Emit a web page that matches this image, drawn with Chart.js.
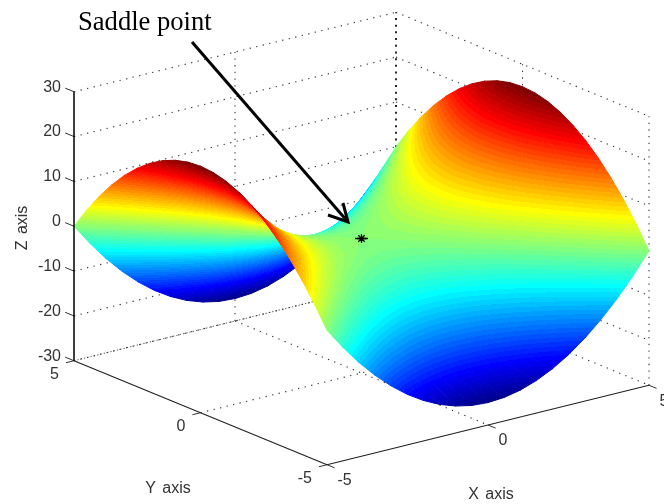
<!DOCTYPE html>
<html lang="en">
<head>
  <meta charset="UTF-8">
  <title>Saddle point</title>
  <script src="https://cdn.jsdelivr.net/npm/chart.js"></script>
  <style>
    html, body { margin: 0; padding: 0; background: #fff; overflow: hidden; }
    canvas { display: block; }
  </style>
</head>
<body>
  <canvas id="saddleChart" width="664" height="504"></canvas>

  <script>
    const xVals = [-5,-4.5,-4,-3.5,-3,-2.5,-2,-1.5,-1,-0.5,0,0.5,1,1.5,2,2.5,3,3.5,4,4.5,5];
    const yVals = [5,4.5,4,3.5,3,2.5,2,1.5,1,0.5,0,-0.5,-1,-1.5,-2,-2.5,-3,-3.5,-4,-4.5,-5];
    // surface heights, one row per y value
    const zVals = [
      [0,-4.75,-9,-12.75,-16,-18.75,-21,-22.75,-24,-24.75,-25,-24.75,-24,-22.75,-21,-18.75,-16,-12.75,-9,-4.75,0],
      [4.75,0,-4.25,-8,-11.25,-14,-16.25,-18,-19.25,-20,-20.25,-20,-19.25,-18,-16.25,-14,-11.25,-8,-4.25,0,4.75],
      [9,4.25,0,-3.75,-7,-9.75,-12,-13.75,-15,-15.75,-16,-15.75,-15,-13.75,-12,-9.75,-7,-3.75,0,4.25,9],
      [12.75,8,3.75,0,-3.25,-6,-8.25,-10,-11.25,-12,-12.25,-12,-11.25,-10,-8.25,-6,-3.25,0,3.75,8,12.75],
      [16,11.25,7,3.25,0,-2.75,-5,-6.75,-8,-8.75,-9,-8.75,-8,-6.75,-5,-2.75,0,3.25,7,11.25,16],
      [18.75,14,9.75,6,2.75,0,-2.25,-4,-5.25,-6,-6.25,-6,-5.25,-4,-2.25,0,2.75,6,9.75,14,18.75],
      [21,16.25,12,8.25,5,2.25,0,-1.75,-3,-3.75,-4,-3.75,-3,-1.75,0,2.25,5,8.25,12,16.25,21],
      [22.75,18,13.75,10,6.75,4,1.75,0,-1.25,-2,-2.25,-2,-1.25,0,1.75,4,6.75,10,13.75,18,22.75],
      [24,19.25,15,11.25,8,5.25,3,1.25,0,-0.75,-1,-0.75,0,1.25,3,5.25,8,11.25,15,19.25,24],
      [24.75,20,15.75,12,8.75,6,3.75,2,0.75,0,-0.25,0,0.75,2,3.75,6,8.75,12,15.75,20,24.75],
      [25,20.25,16,12.25,9,6.25,4,2.25,1,0.25,0,0.25,1,2.25,4,6.25,9,12.25,16,20.25,25],
      [24.75,20,15.75,12,8.75,6,3.75,2,0.75,0,-0.25,0,0.75,2,3.75,6,8.75,12,15.75,20,24.75],
      [24,19.25,15,11.25,8,5.25,3,1.25,0,-0.75,-1,-0.75,0,1.25,3,5.25,8,11.25,15,19.25,24],
      [22.75,18,13.75,10,6.75,4,1.75,0,-1.25,-2,-2.25,-2,-1.25,0,1.75,4,6.75,10,13.75,18,22.75],
      [21,16.25,12,8.25,5,2.25,0,-1.75,-3,-3.75,-4,-3.75,-3,-1.75,0,2.25,5,8.25,12,16.25,21],
      [18.75,14,9.75,6,2.75,0,-2.25,-4,-5.25,-6,-6.25,-6,-5.25,-4,-2.25,0,2.75,6,9.75,14,18.75],
      [16,11.25,7,3.25,0,-2.75,-5,-6.75,-8,-8.75,-9,-8.75,-8,-6.75,-5,-2.75,0,3.25,7,11.25,16],
      [12.75,8,3.75,0,-3.25,-6,-8.25,-10,-11.25,-12,-12.25,-12,-11.25,-10,-8.25,-6,-3.25,0,3.75,8,12.75],
      [9,4.25,0,-3.75,-7,-9.75,-12,-13.75,-15,-15.75,-16,-15.75,-15,-13.75,-12,-9.75,-7,-3.75,0,4.25,9],
      [4.75,0,-4.25,-8,-11.25,-14,-16.25,-18,-19.25,-20,-20.25,-20,-19.25,-18,-16.25,-14,-11.25,-8,-4.25,0,4.75],
      [0,-4.75,-9,-12.75,-16,-18.75,-21,-22.75,-24,-24.75,-25,-24.75,-24,-22.75,-21,-18.75,-16,-12.75,-9,-4.75,0]
    ];
    const xTicks = [-5, 0, 5];
    const yTicks = [5, 0, -5];
    const zTicks = [30, 20, 10, 0, -10, -20, -30];
    const saddle = [0, 0, 0];

    const zMin = -25, zMax = 25, levels = 64;

    // view of the 3d box, in canvas units
    function project(x, y, z) {
      return { x: 361.5 + 32.2 * x - 25.3 * y, y: 238.5 - 7.95 * x - 10.4 * y - 4.483 * z };
    }

    function jet(k) {
      const t = (k + 1) / levels;
      const c = v => Math.round(255 * Math.min(1, Math.max(0, v)));
      return `rgb(${c(1.5 - Math.abs(4 * t - 3))},${c(1.5 - Math.abs(4 * t - 2))},${c(1.5 - Math.abs(4 * t - 1))})`;
    }
    const levelOf = z => Math.min(levels - 1, Math.max(0, Math.floor((z - zMin) / (zMax - zMin) * levels)));

    // colour a triangle like shading interp: banded jet running along the z direction
    function shade(tri) {
      let cached = null;
      return c => {
        if (cached) return cached;
        const sx = c.chart.scales.x, sy = c.chart.scales.y;
        const p = tri.map(v => ({ x: sx.getPixelForValue(v.p.x), y: sy.getPixelForValue(v.p.y), z: v.z }));
        if (!p.every(v => Number.isFinite(v.x) && Number.isFinite(v.y))) return 'transparent'; // scales not laid out yet
        const det = (p[1].x - p[0].x) * (p[2].y - p[0].y) - (p[2].x - p[0].x) * (p[1].y - p[0].y);
        const lo = p.reduce((m, v) => v.z < m.z ? v : m), hi = p.reduce((m, v) => v.z > m.z ? v : m);
        if (Math.abs(det) < 0.01 || levelOf(lo.z) === levelOf(hi.z)) {
          cached = jet(levelOf((lo.z + hi.z) / 2));
          return cached;
        }
        const a = ((p[1].z - p[0].z) * (p[2].y - p[0].y) - (p[2].z - p[0].z) * (p[1].y - p[0].y)) / det;
        const b = ((p[2].z - p[0].z) * (p[1].x - p[0].x) - (p[1].z - p[0].z) * (p[2].x - p[0].x)) / det;
        const span = hi.z - lo.z, n = a * a + b * b;
        const g = c.chart.ctx.createLinearGradient(lo.x, lo.y, lo.x + a * span / n, lo.y + b * span / n);
        for (let k = levelOf(lo.z); k <= levelOf(hi.z); k++) {
          const from = zMin + k * (zMax - zMin) / levels, to = from + (zMax - zMin) / levels;
          g.addColorStop(Math.max(0, (from - lo.z) / span), jet(k));
          g.addColorStop(Math.min(1, (to - lo.z) / span), jet(k));
        }
        cached = g;
        return g;
      };
    }

    function lineSet(points, color, width, dash) {
      return {
        data: points, borderColor: color, borderWidth: width, borderDash: dash || [],
        pointRadius: 0, fill: false, tension: 0, spanGaps: true
      };
    }

    function triSet(v1, v2, v3) {
      const style = shade([v1, v2, v3]);
      return {
        data: [v1.p, v2.p, v3.p, v1.p], backgroundColor: style, borderColor: style, borderWidth: 1,
        borderJoinStyle: 'round', fill: 'shape', pointRadius: 0, tension: 0, spanGaps: true,
        pointBackgroundColor: 'transparent', pointBorderColor: 'transparent'
      };
    }

    // Chart.js paints the last dataset first, so front things go first in this list
    const datasets = [];

    // arrow and label mark
    const arrowTail = { x: 192, y: 42 }, arrowTip = { x: 348, y: 222 };
    const barbA = { x: 343, y: 203 }, barbB = { x: 328, y: 215 };
    datasets.push(lineSet([barbA, arrowTip, barbB], '#000', 3));
    datasets.push(lineSet([arrowTail, arrowTip], '#000', 3));
    datasets.push({
      data: [project(...saddle)], showLine: false, pointStyle: 'star', pointRadius: 4.5,
      pointBorderWidth: 1.3, pointBorderColor: '#000', pointBackgroundColor: '#000'
    });
    datasets.push({
      data: [project(...saddle)], showLine: false, pointStyle: 'line', pointRadius: 6.5,
      pointBorderWidth: 1.5, pointBorderColor: '#000', pointBackgroundColor: '#000'
    });

    // axes and ticks
    const first = a => a[0], last = a => a[a.length - 1];
    datasets.push(lineSet([project(-5, 5, first(zTicks)), project(-5, 5, last(zTicks))], '#000', 1.5));
    datasets.push(lineSet([project(-5, first(yTicks), last(zTicks)), project(-5, last(yTicks), last(zTicks))], '#222', 1.2));
    datasets.push(lineSet([project(first(xTicks), -5, last(zTicks)), project(last(xTicks), -5, last(zTicks))], '#222', 1.2));
    zTicks.forEach(z => datasets.push(lineSet([project(-5, 5, z), project(-5, 5.35, z)], '#333', 1)));
    yTicks.forEach(y => datasets.push(lineSet([project(-5, y, -30), project(-5.25, y, -30)], '#333', 1)));
    xTicks.forEach(x => datasets.push(lineSet([project(x, -5, -30), project(x, -5.3, -30)], '#333', 1)));

    // surface, near corner first
    for (let j = yVals.length - 2; j >= 0; j--) {
      for (let i = 0; i < xVals.length - 1; i++) {
        const v = (a, b) => ({ p: project(xVals[a], yVals[b], zVals[b][a]), z: zVals[b][a] });
        datasets.push(triSet(v(i, j), v(i + 1, j + 1), v(i, j + 1)));
        datasets.push(triSet(v(i, j), v(i + 1, j), v(i + 1, j + 1)));
      }
    }

    // dotted box grid behind everything
    const dots = [1.3, 5.4];
    zTicks.forEach(z => {
      datasets.push(lineSet([project(-5, 5, z), project(5, 5, z)], '#333', 1.1, dots));
      datasets.push(lineSet([project(5, 5, z), project(5, -5, z)], '#333', 1.1, dots));
    });
    datasets.push(lineSet([project(5, 5, -30), project(5, 5, 30)], '#111', 1.8, [2, 4.7]));
    [[0, 5], [5, 0], [5, -5]].forEach(q => {
      datasets.push(lineSet([project(q[0], q[1], -30), project(q[0], q[1], 30)], '#333', 1.1, dots));
    });
    datasets.push(lineSet([project(0, 5, -30), project(0, -5, -30)], '#333', 1.1, dots));
    datasets.push(lineSet([project(-5, 0, -30), project(5, 0, -30)], '#333', 1.1, dots));
    datasets.push(lineSet([project(-5, 5, -30), project(5, 5, -30)], '#555', 1, [1.3, 2.1]));

    // text, placed through the same scales as the marks
    const textPlugin = {
      id: 'textPlugin',
      afterDraw(chart) {
        const c = chart.ctx, sx = chart.scales.x, sy = chart.scales.y;
        const put = (s, pos, dx, dy, align) => {
          c.textAlign = align;
          c.fillText(s, sx.getPixelForValue(pos.x) + dx, sy.getPixelForValue(pos.y) + dy);
        };
        c.save();
        c.textBaseline = 'middle';
        c.fillStyle = '#333';
        c.font = '16px "Liberation Sans"';
        zTicks.forEach(z => put(String(z), project(-5, 5, z), -13, -4.5, 'right'));
        yTicks.forEach(y => put(String(y), project(-5, y, -30), -15, 14, 'right'));
        xTicks.forEach(x => put(String(x), project(x, -5, -30), 10.5, 16, 'left'));
        c.wordSpacing = '2px';
        put('Y axis', { x: 168, y: 489 }, 0, 0, 'center');
        put('X axis', { x: 491, y: 495 }, 0, 0, 'center');
        c.translate(sx.getPixelForValue(23), sy.getPixelForValue(228));
        c.rotate(-Math.PI / 2);
        c.textAlign = 'center';
        c.fillText('Z axis', 0, 0);
        c.restore();
        c.save();
        c.fillStyle = '#000';
        c.font = '26.6px "Liberation Serif"';
        c.textAlign = 'left';
        c.textBaseline = 'alphabetic';
        c.fillText('Saddle point', sx.getPixelForValue(78), sy.getPixelForValue(30));
        c.restore();
      }
    };

    new Chart(document.getElementById('saddleChart').getContext('2d'), {
      type: 'scatter',
      data: { datasets: datasets.map(d => Object.assign({ showLine: true }, d)) },
      options: {
        responsive: false,
        animation: false,
        events: [],
        layout: { padding: 0, autoPadding: false },
        plugins: { legend: { display: false }, tooltip: { enabled: false }, title: { display: false } },
        scales: {
          x: { type: 'linear', display: false, min: 0, max: 664 },
          y: { type: 'linear', display: false, min: 0, max: 504, reverse: true }
        }
      },
      plugins: [textPlugin]
    });
  </script>
</body>
</html>
